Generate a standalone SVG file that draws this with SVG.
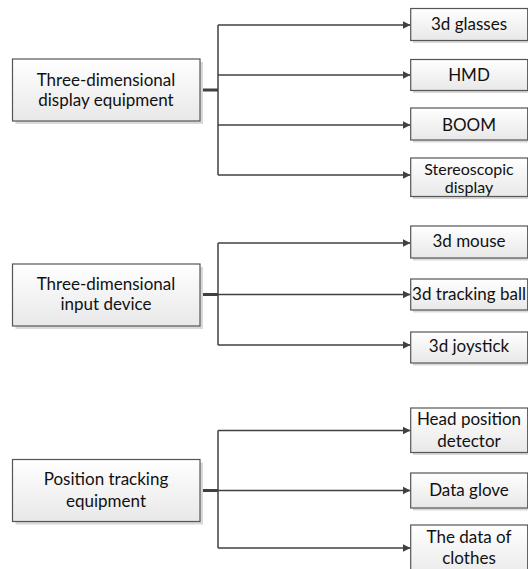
<svg xmlns="http://www.w3.org/2000/svg" width="528" height="569" viewBox="0 0 528 569">
<defs>
<linearGradient id="g" x1="0" y1="0" x2="0" y2="1">
<stop offset="0" stop-color="#ffffff"/>
<stop offset="1" stop-color="#e8e8e8"/>
</linearGradient>
<marker id="arr" markerUnits="userSpaceOnUse" markerWidth="10" markerHeight="10" refX="8" refY="5" orient="auto">
<path d="M0,1 L8,5 L0,9 Z" fill="#404040"/>
</marker>
<style>
.box{fill:url(#g);stroke:#555;stroke-width:1.2}
.sh{fill:#d9d9d9}
.t{font-family:Lato,"Open Sans","Liberation Sans",sans-serif;font-size:17px;fill:#111;text-anchor:middle}
.s{font-size:16px}
.ln{fill:none;stroke:#404040;stroke-width:1.5}
.stub{fill:none;stroke:#404040;stroke-width:3}
.ar{fill:none;stroke:#404040;stroke-width:1.5;marker-end:url(#arr)}
</style>
</defs>
<g id="connectors">
<path class="stub" d="M200,90 H218"/>
<path class="ln" d="M218,25 V175"/>
<path class="ar" d="M218,25 H410.5"/>
<path class="ar" d="M218,75 H410.5"/>
<path class="ar" d="M218,125 H410.5"/>
<path class="ar" d="M218,175 H410.5"/>
<path class="stub" d="M200,294.5 H218"/>
<path class="ln" d="M218,243 V345"/>
<path class="ar" d="M218,243 H410.5"/>
<path class="ar" d="M218,294.5 H410.5"/>
<path class="ar" d="M218,345 H410.5"/>
<path class="stub" d="M200,490.5 H218"/>
<path class="ln" d="M218,430.5 V548"/>
<path class="ar" d="M218,430.5 H410.5"/>
<path class="ar" d="M218,490.5 H410.5"/>
<path class="ar" d="M218,548 H410.5"/>
</g>
<g id="n-display">
<rect class="sh" x="15.5" y="62" width="187.5" height="62"/>
<rect class="box" x="12.5" y="59" width="187.5" height="62"/>
<text class="t" x="106" y="86">Three-dimensional</text>
<text class="t" x="106" y="106">display equipment</text>
</g>
<g id="n-glasses">
<rect class="sh" x="413" y="11" width="117" height="32"/>
<rect class="box" x="410.7" y="8.5" width="117" height="32"/>
<text class="t" x="469" y="30">3d glasses</text>
</g>
<g id="n-hmd">
<rect class="sh" x="413" y="62" width="117" height="31"/>
<rect class="box" x="410.7" y="59.5" width="117" height="31"/>
<text class="t" x="469" y="80.5">HMD</text>
</g>
<g id="n-boom">
<rect class="sh" x="413" y="110.5" width="117" height="32"/>
<rect class="box" x="410.7" y="108" width="117" height="32"/>
<text class="t" x="469" y="130.5">BOOM</text>
</g>
<g id="n-stereo">
<rect class="sh" x="413" y="160.5" width="117" height="38.5"/>
<rect class="box" x="410.7" y="158" width="117" height="38.5"/>
<text class="t s" x="469" y="174.5">Stereoscopic</text>
<text class="t s" x="469" y="193">display</text>
</g>
<g id="n-input">
<rect class="sh" x="15.5" y="267" width="187.5" height="62"/>
<rect class="box" x="12.5" y="264" width="187.5" height="62"/>
<text class="t" x="106" y="289.5">Three-dimensional</text>
<text class="t" x="106" y="310">input device</text>
</g>
<g id="n-mouse">
<rect class="sh" x="413" y="228.5" width="117" height="32"/>
<rect class="box" x="410.7" y="226" width="117" height="32"/>
<text class="t" x="469" y="247">3d mouse</text>
</g>
<g id="n-ball">
<rect class="sh" x="413" y="281.5" width="117" height="31"/>
<rect class="box" x="410.7" y="279" width="117" height="31"/>
<text class="t" x="469" y="300">3d tracking ball</text>
</g>
<g id="n-joystick">
<rect class="sh" x="413" y="334.5" width="117" height="31"/>
<rect class="box" x="410.7" y="332" width="117" height="31"/>
<text class="t" x="469" y="352">3d joystick</text>
</g>
<g id="n-tracking">
<rect class="sh" x="15.5" y="462.5" width="187.5" height="62"/>
<rect class="box" x="12.5" y="459.5" width="187.5" height="62"/>
<text class="t" x="106" y="485">Position tracking</text>
<text class="t" x="106" y="506.5">equipment</text>
</g>
<g id="n-head">
<rect class="sh" x="413" y="410.5" width="117" height="44.5"/>
<rect class="box" x="410.7" y="408" width="117" height="44.5"/>
<text class="t" x="469" y="425">Head position</text>
<text class="t" x="469" y="446.5">detector</text>
</g>
<g id="n-glove">
<rect class="sh" x="413" y="475.5" width="117" height="35"/>
<rect class="box" x="410.7" y="473" width="117" height="35"/>
<text class="t" x="469" y="496">Data glove</text>
</g>
<g id="n-clothes">
<rect class="sh" x="413" y="527.5" width="117" height="55"/>
<rect class="box" x="410.7" y="525" width="117" height="55"/>
<text class="t" x="469" y="543">The data of</text>
<text class="t" x="469" y="563.5">clothes</text>
</g>
</svg>
